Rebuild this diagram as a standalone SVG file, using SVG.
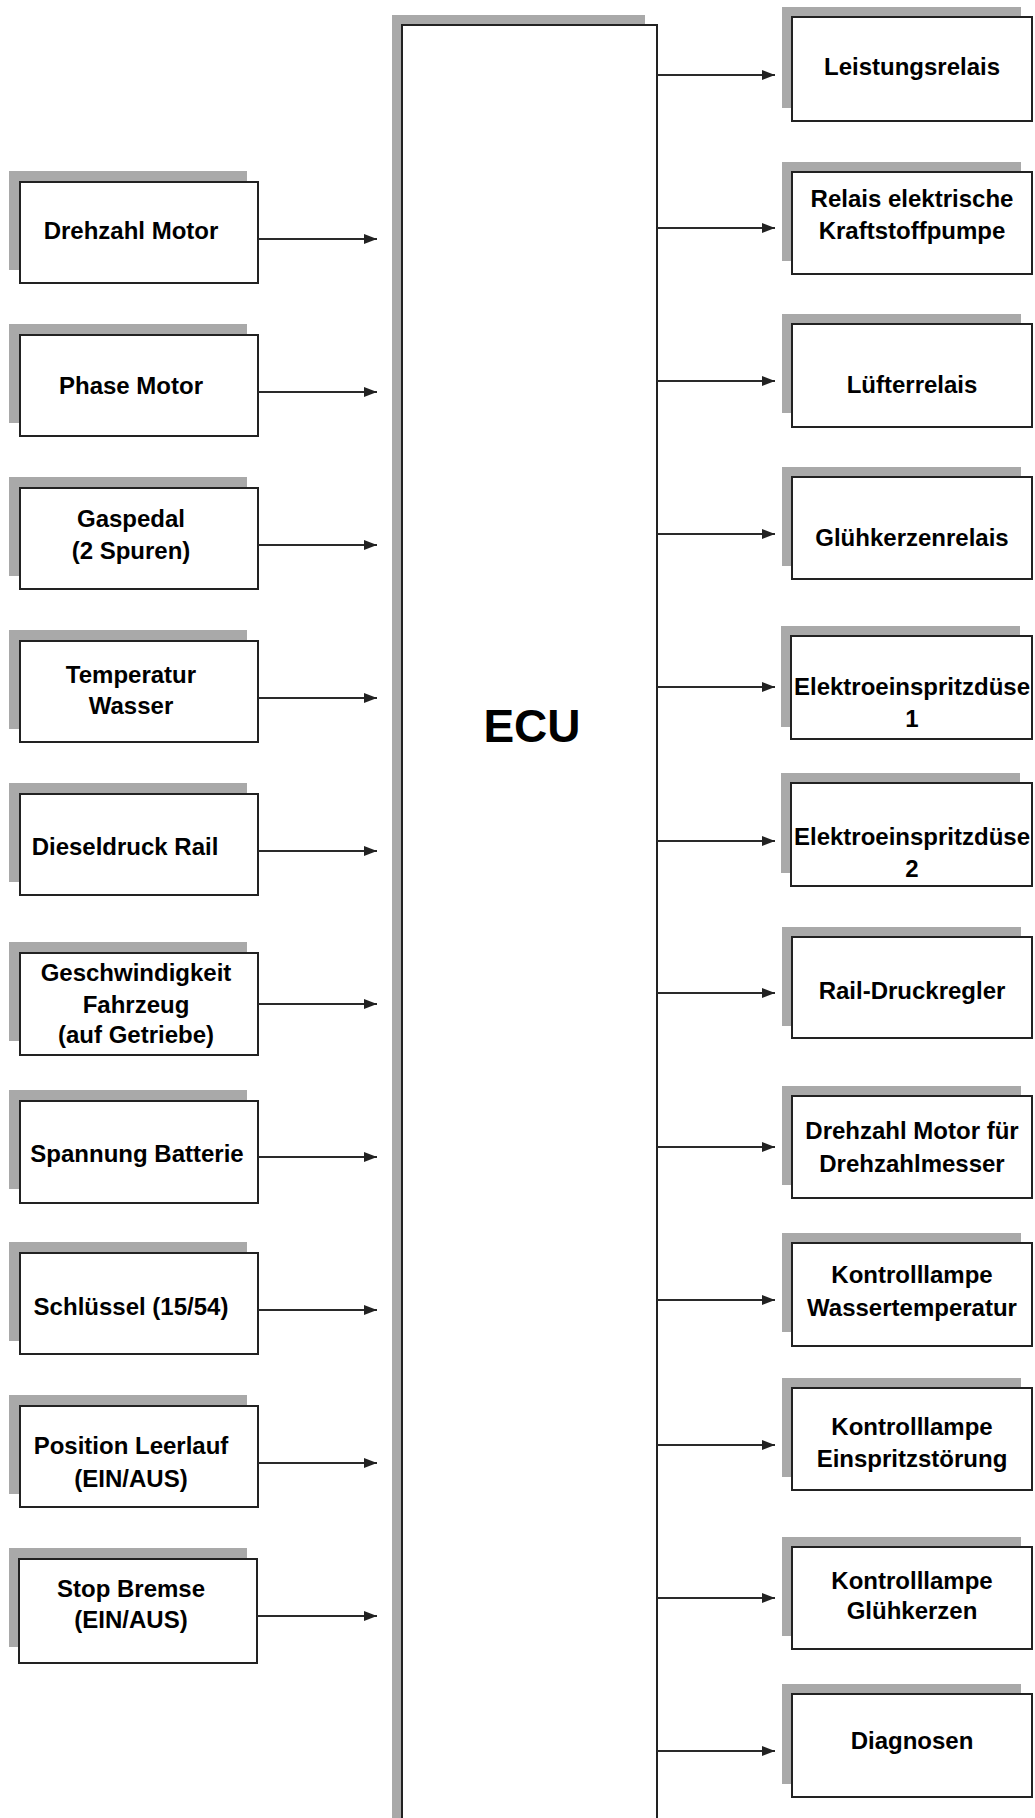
<svg xmlns="http://www.w3.org/2000/svg" width="1035" height="1818" viewBox="0 0 1035 1818">
<defs>
<marker id="arr" markerUnits="userSpaceOnUse" markerWidth="13" markerHeight="10" refX="13" refY="5" orient="auto"><path d="M0,0 L13,5 L0,10 z" fill="#222"/></marker>
</defs>
<style>
.sh{fill:#a9a9a9}
.bx{fill:#fff;stroke:#222;stroke-width:2}
.t{font-family:"Liberation Sans",Arial,sans-serif;font-weight:bold;font-size:24px;fill:#000;text-anchor:middle}
.c line{stroke:#2a2a2a;stroke-width:2;marker-end:url(#arr)}
</style>
<rect width="1035" height="1818" fill="#fff"/>
<g id="ecu">
<rect class="sh" x="392" y="15" width="253" height="1810"/>
<rect class="bx" x="402" y="25" width="255" height="1810"/>
<text class="t" x="532" y="742" style="font-size:46px">ECU</text>
</g>
<g id="in1"><rect class="sh" x="9" y="171" width="238" height="99"/><rect class="bx" x="20" y="182" width="238" height="101"/><text class="t" x="131" y="239">Drehzahl Motor</text></g>
<g id="in2"><rect class="sh" x="9" y="324" width="238" height="99"/><rect class="bx" x="20" y="335" width="238" height="101"/><text class="t" x="131" y="394">Phase Motor</text></g>
<g id="in3"><rect class="sh" x="9" y="477" width="238" height="99"/><rect class="bx" x="20" y="488" width="238" height="101"/><text class="t" x="131" y="527">Gaspedal</text><text class="t" x="131" y="559">(2 Spuren)</text></g>
<g id="in4"><rect class="sh" x="9" y="630" width="238" height="99"/><rect class="bx" x="20" y="641" width="238" height="101"/><text class="t" x="131" y="683">Temperatur</text><text class="t" x="131" y="714">Wasser</text></g>
<g id="in5"><rect class="sh" x="9" y="783" width="238" height="99"/><rect class="bx" x="20" y="794" width="238" height="101"/><text class="t" x="125" y="855">Dieseldruck Rail</text></g>
<g id="in6"><rect class="sh" x="9" y="942" width="238" height="99"/><rect class="bx" x="20" y="953" width="238" height="102"/><text class="t" x="136" y="981">Geschwindigkeit</text><text class="t" x="136" y="1013">Fahrzeug</text><text class="t" x="136" y="1043">(auf Getriebe)</text></g>
<g id="in7"><rect class="sh" x="9" y="1090" width="238" height="99"/><rect class="bx" x="20" y="1101" width="238" height="102"/><text class="t" x="137" y="1162">Spannung Batterie</text></g>
<g id="in8"><rect class="sh" x="9" y="1242" width="238" height="99"/><rect class="bx" x="20" y="1253" width="238" height="101"/><text class="t" x="131" y="1315">Schlüssel (15/54)</text></g>
<g id="in9"><rect class="sh" x="9" y="1395" width="238" height="99"/><rect class="bx" x="20" y="1406" width="238" height="101"/><text class="t" x="131" y="1454">Position Leerlauf</text><text class="t" x="131" y="1487">(EIN/AUS)</text></g>
<g id="in10"><rect class="sh" x="9" y="1548" width="238" height="99"/><rect class="bx" x="19" y="1559" width="238" height="104"/><text class="t" x="131" y="1597">Stop Bremse</text><text class="t" x="131" y="1628">(EIN/AUS)</text></g>
<g id="out1"><rect class="sh" x="782" y="7" width="239" height="101"/><rect class="bx" x="792" y="17" width="240" height="104"/><text class="t" x="912" y="75">Leistungsrelais</text></g>
<g id="out2"><rect class="sh" x="782" y="162" width="239" height="99"/><rect class="bx" x="792" y="172" width="240" height="102"/><text class="t" x="912" y="207">Relais elektrische</text><text class="t" x="912" y="239">Kraftstoffpumpe</text></g>
<g id="out3"><rect class="sh" x="782" y="314" width="239" height="99"/><rect class="bx" x="792" y="324" width="240" height="103"/><text class="t" x="912" y="393">Lüfterrelais</text></g>
<g id="out4"><rect class="sh" x="782" y="467" width="239" height="99"/><rect class="bx" x="792" y="477" width="240" height="102"/><text class="t" x="912" y="546">Glühkerzenrelais</text></g>
<g id="out5"><rect class="sh" x="781" y="626" width="239" height="101"/><rect class="bx" x="791" y="636" width="241" height="103"/><text class="t" x="912" y="695">Elektroeinspritzdüse</text><text class="t" x="912" y="727">1</text></g>
<g id="out6"><rect class="sh" x="781" y="773" width="239" height="100"/><rect class="bx" x="791" y="783" width="241" height="103"/><text class="t" x="912" y="845">Elektroeinspritzdüse</text><text class="t" x="912" y="877">2</text></g>
<g id="out7"><rect class="sh" x="782" y="927" width="239" height="99"/><rect class="bx" x="792" y="937" width="240" height="101"/><text class="t" x="912" y="999">Rail-Druckregler</text></g>
<g id="out8"><rect class="sh" x="782" y="1086" width="239" height="99"/><rect class="bx" x="792" y="1096" width="240" height="102"/><text class="t" x="912" y="1139">Drehzahl Motor für</text><text class="t" x="912" y="1172">Drehzahlmesser</text></g>
<g id="out9"><rect class="sh" x="782" y="1233" width="239" height="99"/><rect class="bx" x="792" y="1243" width="240" height="103"/><text class="t" x="912" y="1283">Kontrolllampe</text><text class="t" x="912" y="1316">Wassertemperatur</text></g>
<g id="out10"><rect class="sh" x="782" y="1378" width="239" height="99"/><rect class="bx" x="792" y="1388" width="240" height="102"/><text class="t" x="912" y="1435">Kontrolllampe</text><text class="t" x="912" y="1467">Einspritzstörung</text></g>
<g id="out11"><rect class="sh" x="782" y="1537" width="239" height="99"/><rect class="bx" x="792" y="1547" width="240" height="102"/><text class="t" x="912" y="1589">Kontrolllampe</text><text class="t" x="912" y="1619">Glühkerzen</text></g>
<g id="out12"><rect class="sh" x="782" y="1684" width="239" height="100"/><rect class="bx" x="792" y="1694" width="240" height="103"/><text class="t" x="912" y="1749">Diagnosen</text></g>
<g id="connectors" class="c">
<line x1="258" y1="239" x2="377" y2="239"/>
<line x1="258" y1="392" x2="377" y2="392"/>
<line x1="258" y1="545" x2="377" y2="545"/>
<line x1="258" y1="698" x2="377" y2="698"/>
<line x1="258" y1="851" x2="377" y2="851"/>
<line x1="258" y1="1004" x2="377" y2="1004"/>
<line x1="258" y1="1157" x2="377" y2="1157"/>
<line x1="258" y1="1310" x2="377" y2="1310"/>
<line x1="258" y1="1463" x2="377" y2="1463"/>
<line x1="257" y1="1616" x2="377" y2="1616"/>
<line x1="657" y1="75" x2="775" y2="75"/>
<line x1="657" y1="228" x2="775" y2="228"/>
<line x1="657" y1="381" x2="775" y2="381"/>
<line x1="657" y1="534" x2="775" y2="534"/>
<line x1="657" y1="687" x2="775" y2="687"/>
<line x1="657" y1="841" x2="775" y2="841"/>
<line x1="657" y1="993" x2="775" y2="993"/>
<line x1="657" y1="1147" x2="775" y2="1147"/>
<line x1="657" y1="1300" x2="775" y2="1300"/>
<line x1="657" y1="1445" x2="775" y2="1445"/>
<line x1="657" y1="1598" x2="775" y2="1598"/>
<line x1="657" y1="1751" x2="775" y2="1751"/>
</g>
</svg>
